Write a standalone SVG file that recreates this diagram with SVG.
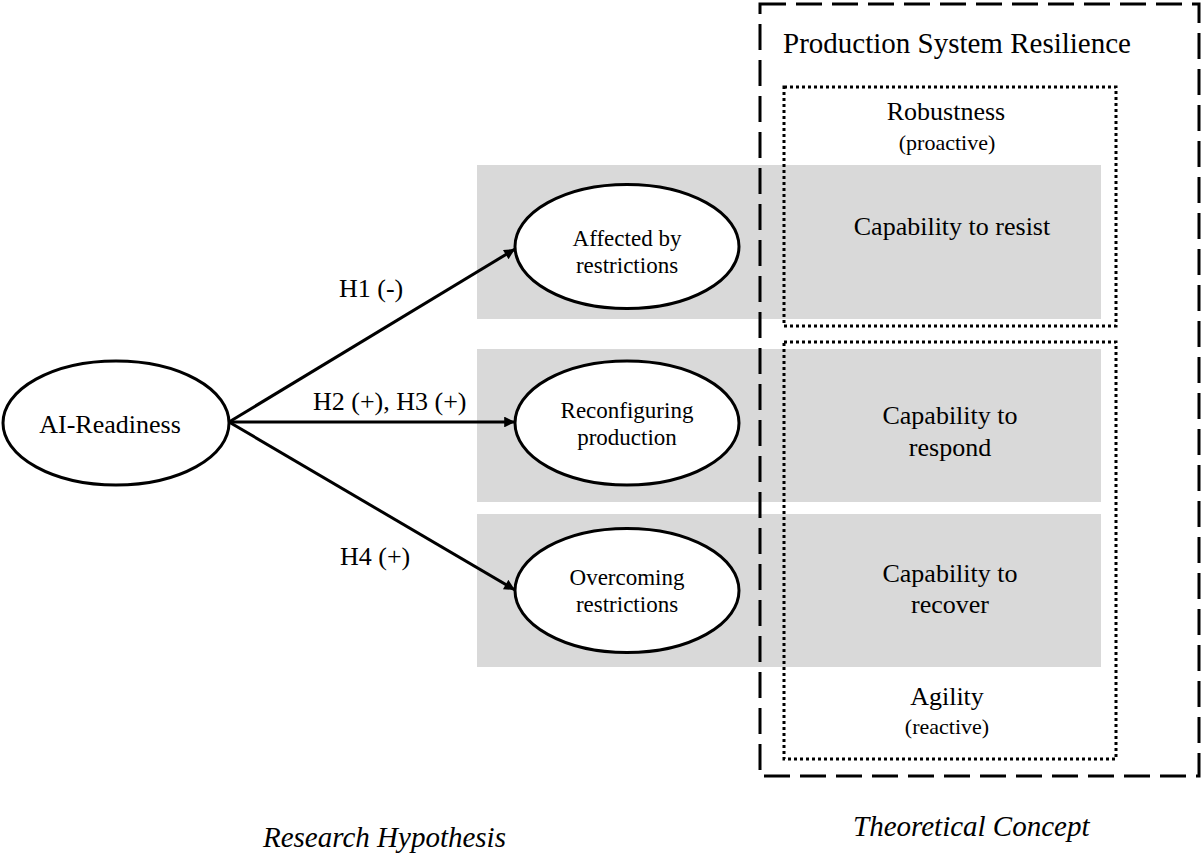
<svg xmlns="http://www.w3.org/2000/svg" width="1203" height="854" viewBox="0 0 1203 854">
  <style>
    .band { fill: #d9d9d9; stroke: none; }
    .node { fill: #ffffff; stroke: #000000; stroke-width: 3; }
    .t { font-family: "Liberation Serif", "Times New Roman", serif; fill: #000000; }
    .s23 { font-size: 23px; text-anchor: middle; }
    .s26 { font-size: 26px; }
    .mid { text-anchor: middle; }
    .it { font-style: italic; font-size: 29px; }
    .edge { stroke: #000000; stroke-width: 3; fill: none; marker-end: url(#arrow); }
    .dash { fill: none; stroke: #000000; stroke-width: 3; stroke-dasharray: 26 10; }
    .dot { fill: none; stroke: #000000; stroke-width: 3; stroke-dasharray: 3 3; }
  </style>
  <defs>
    <marker id="arrow" viewBox="0 0 10 10" refX="10" refY="5" markerWidth="4.6" markerHeight="3.6" orient="auto" markerUnits="strokeWidth">
      <path d="M0,0 L10,5 L0,10 z" fill="#000000"/>
    </marker>
  </defs>
  <rect width="1203" height="854" fill="#ffffff"/>

  <g id="bands">
    <rect class="band" x="477" y="165" width="624" height="154"/>
    <rect class="band" x="477" y="349" width="624" height="153"/>
    <rect class="band" x="477" y="514" width="624" height="153"/>
  </g>

  <g id="resilience-frame">
    <rect class="dash" x="760" y="4" width="439" height="772"/>
    <text class="t" x="783" y="53" font-size="29">Production System Resilience</text>
  </g>

  <g id="robustness">
    <rect class="dot" x="784" y="87" width="332" height="239"/>
    <text class="t s26 mid" x="946" y="120">Robustness</text>
    <text class="t mid" x="947" y="150" font-size="22">(proactive)</text>
  </g>

  <g id="agility">
    <rect class="dot" x="784" y="342" width="332" height="417"/>
    <text class="t s26 mid" x="947" y="705">Agility</text>
    <text class="t mid" x="947" y="734" font-size="22">(reactive)</text>
  </g>

  <g id="cap-resist">
    <text class="t s26 mid" x="952" y="235">Capability to resist</text>
  </g>
  <g id="cap-respond">
    <text class="t s26 mid" x="950" y="424">Capability to</text>
    <text class="t s26 mid" x="950" y="456">respond</text>
  </g>
  <g id="cap-recover">
    <text class="t s26 mid" x="950" y="582">Capability to</text>
    <text class="t s26 mid" x="950" y="613">recover</text>
  </g>

  <g id="connectors">
    <line class="edge" x1="229" y1="422" x2="515" y2="249"/>
    <line class="edge" x1="229" y1="422" x2="515" y2="422"/>
    <line class="edge" x1="229" y1="422" x2="515" y2="590"/>
    <text class="t s26" x="339" y="297">H1 (-)</text>
    <text class="t s26" x="313" y="410">H2 (+), H3 (+)</text>
    <text class="t s26" x="340" y="565">H4 (+)</text>
  </g>

  <g id="ai-readiness">
    <ellipse class="node" cx="116" cy="423" rx="113" ry="62"/>
    <text class="t s26 mid" x="110" y="433">AI-Readiness</text>
  </g>

  <g id="affected">
    <ellipse class="node" cx="627" cy="246.5" rx="112" ry="62"/>
    <text class="t s23" x="627" y="246">Affected by</text>
    <text class="t s23" x="627" y="273">restrictions</text>
  </g>

  <g id="reconfiguring">
    <ellipse class="node" cx="627" cy="423" rx="112" ry="62"/>
    <text class="t s23" x="627" y="418">Reconfiguring</text>
    <text class="t s23" x="627" y="445">production</text>
  </g>

  <g id="overcoming">
    <ellipse class="node" cx="627" cy="590.5" rx="112" ry="62"/>
    <text class="t s23" x="627" y="585">Overcoming</text>
    <text class="t s23" x="627" y="612">restrictions</text>
  </g>

  <g id="captions">
    <text class="t it" x="263" y="847">Research Hypothesis</text>
    <text class="t it" x="853" y="836">Theoretical Concept</text>
  </g>
</svg>
